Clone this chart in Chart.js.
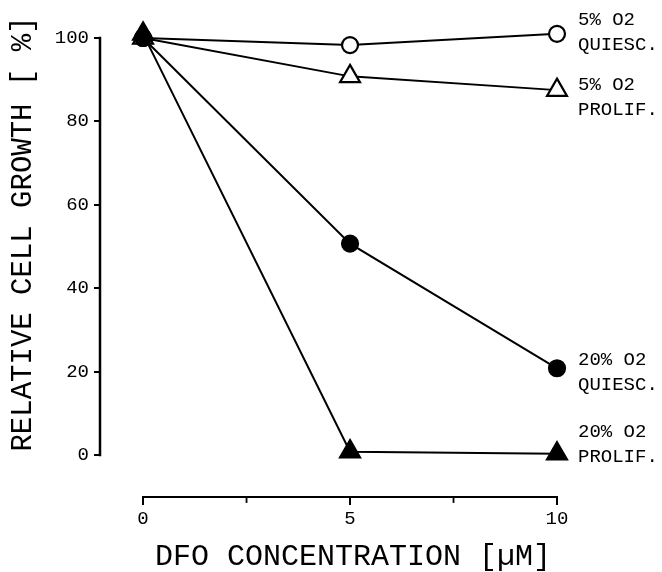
<!DOCTYPE html>
<html>
<head>
<meta charset="utf-8">
<script src="https://cdn.jsdelivr.net/npm/chart.js@4/dist/chart.umd.min.js"></script>
<style>
  html, body { margin: 0; padding: 0; background: #fff; }
  #wrap { width: 662px; height: 572px; }
</style>
</head>
<body>
<div id="wrap"><canvas id="chart"></canvas></div>
<script>
const concentrations = [0, 5, 10];
const quiesc5 = [100, 98.3, 101];
const prolif5 = [100, 90.8, 87.5];
const quiesc20 = [100, 50.7, 20.8];
const prolif20 = [101, 0.8, 0.3];
const yTicks = [0, 20, 40, 60, 80, 100];
const xTicks = [0, 5, 10];
const xMinorTicks = [2.5, 7.5];

const MONO = '"Liberation Mono", "Courier New", monospace';

function pts(values) {
  return concentrations.map((x, i) => ({ x: x, y: values[i] }));
}

function series(label, values, style, filled, lines, labelDy, order) {
  return {
    label: label,
    data: pts(values),
    borderColor: "#000",
    borderWidth: 2,
    pointStyle: style,
    pointRadius: style === "triangle" ? 11.5 : 8,
    pointBorderWidth: 2.2,
    pointBorderColor: "#000",
    pointBackgroundColor: filled ? "#000" : "#fff",
    clip: false,
    order: order,
    endLabel: lines,
    labelDy: labelDy,
  };
}

const decorations = {
  id: "decorations",
  beforeDatasetsDraw(chart) {
    const { ctx, scales: { x, y } } = chart;
    ctx.save();
    ctx.strokeStyle = "#000";
    ctx.lineCap = "square";
    // y axis line only over 0..100
    ctx.lineWidth = 2.5;
    ctx.beginPath();
    ctx.moveTo(chart.chartArea.left, y.getPixelForValue(0));
    ctx.lineTo(chart.chartArea.left, y.getPixelForValue(100));
    ctx.stroke();
    // x axis line only over 0..10
    const by = chart.chartArea.bottom;
    ctx.lineWidth = 2;
    ctx.beginPath();
    ctx.moveTo(x.getPixelForValue(0), by);
    ctx.lineTo(x.getPixelForValue(10), by);
    ctx.stroke();
    ctx.lineWidth = 1.8;
    xMinorTicks.forEach(v => {
      const px = x.getPixelForValue(v);
      ctx.beginPath();
      ctx.moveTo(px, by);
      ctx.lineTo(px, by + 5);
      ctx.stroke();
    });
    ctx.restore();
  },
  afterDraw(chart) {
    const { ctx } = chart;
    ctx.save();
    ctx.fillStyle = "#000";
    ctx.textBaseline = "middle";
    // axis titles
    ctx.font = "30px " + MONO;
    ctx.textAlign = "center";
    ctx.fillText("DFO CONCENTRATION [\u00b5M]", 353, 557);
    ctx.translate(23, 234);
    ctx.rotate(-Math.PI / 2);
    ctx.font = "29px " + MONO;
    ctx.fillText("RELATIVE CELL GROWTH [ %]", 0, 0);
    ctx.setTransform(1, 0, 0, 1, 0, 0);
    // series labels next to the last point
    ctx.font = "19px " + MONO;
    ctx.textAlign = "left";
    chart.data.datasets.forEach((ds, i) => {
      const meta = chart.getDatasetMeta(i);
      const last = meta.data[meta.data.length - 1];
      const lx = last.x + 21;
      const ly = last.y + ds.labelDy;
      ds.endLabel.forEach((t, k) => ctx.fillText(t, lx, ly + k * 25));
    });
    ctx.restore();
  },
};

new Chart(document.getElementById("chart"), {
  type: "line",
  data: {
    datasets: [
      series("5% O2 QUIESC.", quiesc5, "circle", false, ["5% O2", "QUIESC."], -14, 3),
      series("5% O2 PROLIF.", prolif5, "triangle", false, ["5% O2", "PROLIF."], -5, 2),
      series("20% O2 QUIESC.", quiesc20, "circle", true, ["20% O2", "QUIESC."], -8, 1),
      series("20% O2 PROLIF.", prolif20, "triangle", true, ["20% O2", "PROLIF."], -22, 0),
    ],
  },
  options: {
    responsive: true,
    maintainAspectRatio: false,
    animation: false,
    layout: { padding: { left: 0, top: 38, right: 105, bottom: 0 } },
    plugins: { legend: { display: false }, tooltip: { enabled: false } },
    scales: {
      x: {
        type: "linear",
        min: -1.04,
        max: 10,
        afterBuildTicks: s => { s.ticks = xTicks.map(v => ({ value: v })); },
        afterFit: s => { s.height = 75; },
        border: { display: false },
        grid: { drawOnChartArea: false, drawTicks: true, tickLength: 8, color: "#000", lineWidth: 2 },
        ticks: { color: "#000", font: { family: MONO, size: 19 }, padding: 3, maxRotation: 0 },
      },
      y: {
        min: -10.07,
        max: 100,
        afterBuildTicks: s => { s.ticks = yTicks.map(v => ({ value: v })); },
        afterFit: s => { s.width = 100; },
        border: { display: false },
        grid: { drawOnChartArea: false, drawTicks: true, tickLength: 6, color: "#000", lineWidth: 2 },
        ticks: { color: "#000", font: { family: MONO, size: 19 }, padding: 5 },
      },
    },
  },
  plugins: [decorations],
});
</script>
</body>
</html>
